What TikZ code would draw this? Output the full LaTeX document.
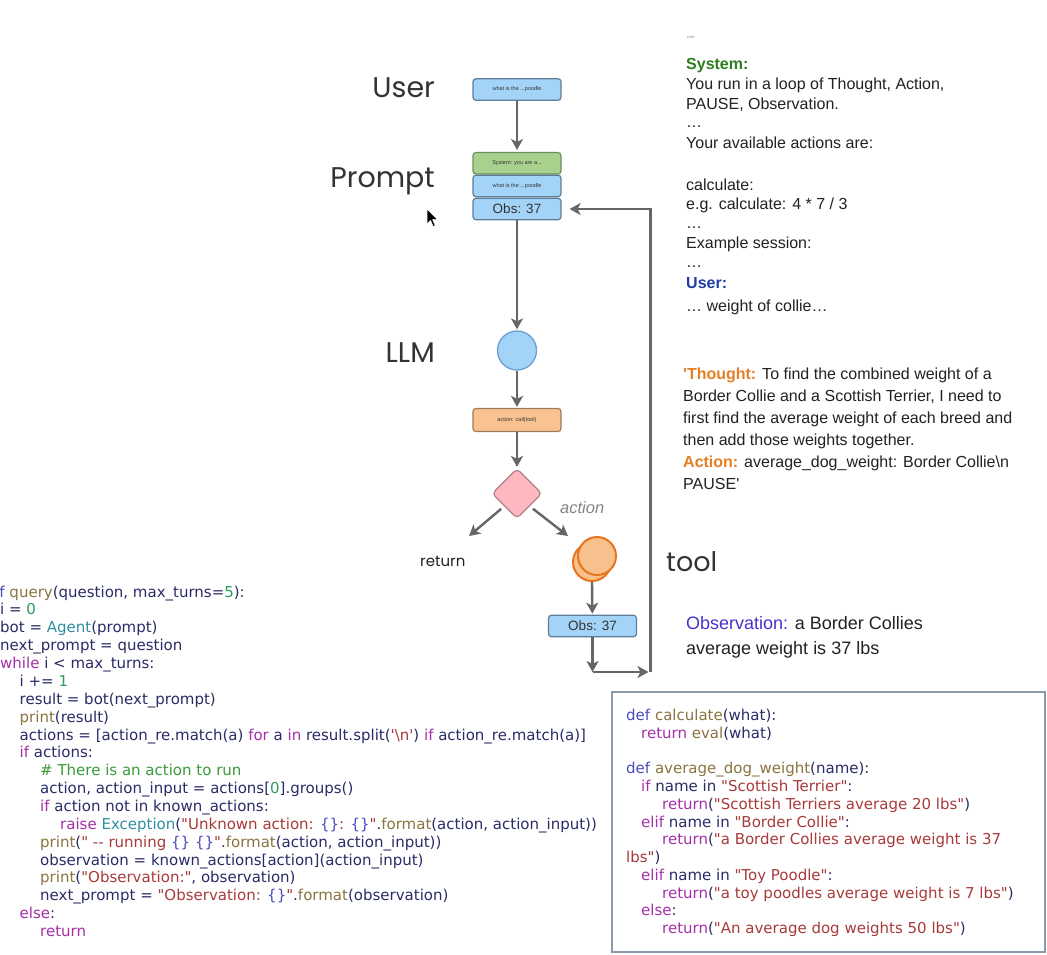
\documentclass[tikz,border=0pt]{standalone}
\usepackage{fontspec}
\usetikzlibrary{shapes.geometric,arrows.meta}
\newfontfamily\arialf{Liberation Sans}
\newfontfamily\popf{Poppins}
\newfontfamily\codef{DejaVu Sans}
\definecolor{bluefill}{HTML}{A3D4F8}
\definecolor{blueline}{HTML}{5E7D99}
\definecolor{greenfill}{HTML}{A9D18E}
\definecolor{greenline}{HTML}{6F8F5A}
\definecolor{orfill}{HTML}{F8C391}
\definecolor{orline}{HTML}{A07A58}
\definecolor{pinkfill}{HTML}{FFB8C0}
\definecolor{pinkline}{HTML}{B08088}
\definecolor{llmline}{HTML}{6B9FCF}
\definecolor{toolline}{HTML}{E8741C}
\definecolor{toolfill}{HTML}{F8C08C}
\definecolor{arrgray}{HTML}{666666}
\definecolor{labgray}{HTML}{333333}
\definecolor{tgray}{HTML}{222222}
\definecolor{sysgreen}{HTML}{2E7D1E}
\definecolor{userblue}{HTML}{1F3FA6}
\definecolor{thorange}{HTML}{E67E22}
\definecolor{obsblue}{HTML}{4433CC}
\definecolor{boxgray}{HTML}{8A9AA8}
\definecolor{cnavy}{HTML}{2A2C66}
\definecolor{ckw}{HTML}{A52FA8}
\definecolor{cfn}{HTML}{8A7440}
\definecolor{ccls}{HTML}{2F8F9F}
\definecolor{cstr}{HTML}{A83A3A}
\definecolor{cnum}{HTML}{2F9A5F}
\definecolor{ccm}{HTML}{3A9A3A}
\definecolor{cdef}{HTML}{4B4BC0}
\newcommand\Kw[1]{\textcolor{ckw}{#1}}
\newcommand\Fn[1]{\textcolor{cfn}{#1}}
\newcommand\Cl[1]{\textcolor{ccls}{#1}}
\newcommand\St[1]{\textcolor{cstr}{#1}}
\newcommand\Nu[1]{\textcolor{cnum}{#1}}
\newcommand\Cm[1]{\textcolor{ccm}{#1}}
\newcommand\Df[1]{\textcolor{cdef}{#1}}
\begin{document}
\begin{tikzpicture}[x=1pt,y=-1pt,
  box/.style={rounded corners=3pt, line width=1.2pt, minimum width=88pt, minimum height=21.5pt, inner sep=0pt, text=labgray},
  bluebox/.style={box, fill=bluefill, draw=blueline},
  tiny/.style={font=\arialf\fontsize{5.5}{6}\selectfont},
  obsf/.style={font=\arialf\fontsize{13.5}{15}\selectfont},
  arr/.style={draw=arrgray, line width=2.4pt, -{Stealth[length=11pt,width=12pt,inset=3pt]}},
  lab/.style={font=\popf\fontsize{28.5}{32}\selectfont, text=labgray, anchor=base east, inner sep=0pt},
  code/.style={font=\codef\fontsize{15}{18}\selectfont, text=cnavy, anchor=base west, inner sep=0pt},
  rtext/.style={font=\arialf\fontsize{16}{20}\selectfont, text=tgray, anchor=base west, inner sep=0pt},
  otext/.style={font=\arialf\fontsize{18}{22}\selectfont, text=tgray, anchor=base west, inner sep=0pt}
]
\useasboundingbox (0,0) rectangle (1047,954);
\clip (0,0) rectangle (1047,954);
\fill[white] (0,0) rectangle (1047,954);

% ---------- labels ----------
\node[lab] (lUser) at (435,97) {User};
\node[lab] (lPrompt) at (435,187) {Prompt};
\node[lab] (lLLM) at (435,362) {LLM};
\node[lab, font=\popf\fontsize{27}{30}\selectfont, anchor=base west] (lTool) at (666,571) {tool};
\node[font=\popf\fontsize{15}{18}\selectfont, text=tgray, anchor=base west, inner sep=0pt] (lReturn) at (420,566) {return};
\node[font=\arialf\itshape\fontsize{16.5}{20}\selectfont, text=arrgray!80, anchor=west, inner sep=0pt] (lAction) at (560,508) {action};

% ---------- flow nodes ----------
\node[bluebox, tiny] (user) at (517,89.5) {what is the ...poodle};
\node[box, fill=greenfill, draw=greenline, tiny] (sys) at (517,163.3) {System: you are a...};
\node[bluebox, tiny] (q) at (517,185.9) {what is the ...poodle};
\node[bluebox, obsf] (obs1) at (517,209) {Obs: 37};
\node[circle, fill=bluefill, draw=llmline, line width=1.3pt, minimum size=39pt, inner sep=0pt] (llm) at (517,350.5) {};
\node[box, fill=orfill, draw=orline, tiny, minimum height=23pt] (act) at (517,420) {action: call(tool)};
\node[diamond, aspect=1, fill=pinkfill, draw=pinkline, line width=1.2pt, rounded corners=4pt, minimum width=50pt, minimum height=50pt, inner sep=0pt] (dia) at (517,493.5) {};
\node[circle, fill=toolfill, draw=toolline, line width=2pt, minimum size=38pt, inner sep=0pt] (toolb) at (592,562) {};
\node[circle, fill=toolfill, draw=toolline, line width=2pt, minimum size=38pt, inner sep=0pt] (toolf) at (597,556) {};
\node[bluebox, obsf] (obs2) at (592.5,626) {Obs: 37};

\coordinate (retEnd) at (469,536);
\coordinate (actEnd) at (568,536);
\coordinate (c1) at (592.5,672);
\coordinate (c2) at (650.5,672);
\coordinate (c3) at (650.5,209);

% ---------- connectors ----------
\draw[arr, shorten >=2pt] (user) -- (sys);
\draw[arr, shorten >=1pt] (obs1) -- (llm);
\draw[arr, shorten >=1pt] (llm) -- (act);
\draw[arr, shorten >=1pt] (act) -- (dia);
\draw[arr, shorten <=4pt] (dia.south west) -- (retEnd);
\draw[arr, shorten <=4pt] (dia.south east) -- (actEnd);
\draw[arr, shorten >=1pt] (toolb.south) -- (obs2);
\draw[arr] (obs2) -- (c1);
\draw[arr, shorten >=2pt] (c1) -- (c2);
\draw[arr, shorten >=8pt] (c2) -- (c3) -- (obs1.east);

% ---------- cursor ----------
\filldraw[fill=black, draw=white, line width=0.5pt]
  (427,209) -- (427,224) -- (430.6,220.4) -- (433.3,226.5) -- (435.2,225.6) -- (432.5,219.5) -- (437.4,219.5) -- cycle;

% ---------- right text ----------
\node[font=\arialf\fontsize{7}{8}\selectfont, text=gray, anchor=base west, inner sep=0pt] (qq) at (687,41) {"""};
\node[rtext] (t1) at (686,69) {\textbf{\textcolor{sysgreen}{System:}}};
\node[rtext] (t2) at (686,89) {You run in a loop of Thought, Action,};
\node[rtext] (t3) at (686,109) {PAUSE, Observation.};
\node[rtext] (t4) at (686,127) {…};
\node[rtext] (t5) at (686,148) {Your available actions are:};
\node[rtext] (t6) at (686,190) {calculate:};
\node[rtext] (t7) at (686,209) {e.g. calculate: 4 * 7 / 3};
\node[rtext] (t8) at (686,228) {…};
\node[rtext] (t9) at (686,248) {Example session:};
\node[rtext] (t10) at (686,267) {…};
\node[rtext] (t11) at (686,288) {\textbf{\textcolor{userblue}{User:}}};
\node[rtext] (t12) at (686,311) {… weight of collie…};

\node[rtext] (h1) at (683,379) {\textbf{\textcolor{thorange}{'Thought:}} To find the combined weight of a};
\node[rtext] (h2) at (683,401) {Border Collie and a Scottish Terrier, I need to};
\node[rtext] (h3) at (683,423) {first find the average weight of each breed and};
\node[rtext] (h4) at (683,445) {then add those weights together.};
\node[rtext] (h5) at (683,467) {\textbf{\textcolor{thorange}{Action:}} average\_dog\_weight: Border Collie\textbackslash n};
\node[rtext] (h6) at (683,489) {PAUSE'};

\node[otext] (o1) at (686,629.5) {\textcolor{obsblue}{Observation:} a Border Collies};
\node[otext] (o2) at (686,654) {average weight is 37 lbs};

% ---------- left code ----------
\node[code] (k0) at (-19.5,597.0) {\Df{def} \Fn{query}(question, max\_turns=\Nu{5}):};
\node[code] (k1) at (0,614.9) {i = \Nu{0}};
\node[code] (k2) at (0,632.7) {bot = \Cl{Agent}(prompt)};
\node[code] (k3) at (0,650.6) {next\_prompt = question};
\node[code] (k4) at (0,668.5) {\Kw{while} i < max\_turns:};
\node[code] (k5) at (19.5,686.4) {i += \Nu{1}};
\node[code] (k6) at (19.5,704.2) {result = bot(next\_prompt)};
\node[code] (k7) at (19.5,722.1) {\Fn{print}(result)};
\node[code] (k8) at (19.5,740.0) {actions = [action\_re.match(a) \Kw{for} a \Kw{in} result.split(\St{'\textbackslash n'}) \Kw{if} action\_re.match(a)]};
\node[code] (k9) at (19.5,757.8) {\Kw{if} actions:};
\node[code] (k10) at (40,775.7) {\Cm{\# There is an action to run}};
\node[code] (k11) at (40,793.6) {action, action\_input = actions[\Nu{0}].groups()};
\node[code] (k12) at (40,811.4) {\Kw{if} action not in known\_actions:};
\node[code] (k13) at (60,829.3) {\Kw{raise} \Cl{Exception}(\St{"Unknown action: \textcolor{cdef}{\{\}}: \textcolor{cdef}{\{\}}"}.\Fn{format}(action, action\_input))};
\node[code] (k14) at (40,847.2) {\Fn{print}(\St{" -- running \textcolor{cdef}{\{\}} \textcolor{cdef}{\{\}}"}.\Fn{format}(action, action\_input))};
\node[code] (k15) at (40,865.1) {observation = known\_actions[action](action\_input)};
\node[code] (k16) at (40,882.9) {\Fn{print}(\St{"Observation:"}, observation)};
\node[code] (k17) at (40,900.8) {next\_prompt = \St{"Observation: \textcolor{cdef}{\{\}}"}.\Fn{format}(observation)};
\node[code] (k18) at (19.5,918.7) {\Kw{else}:};
\node[code] (k19) at (40,936.5) {\Kw{return}};

% ---------- right code box ----------
\draw[boxgray, line width=1.5pt] (612,692) rectangle (1045,952);
\node[code] (r0) at (626,720.5) {\Df{def} \Fn{calculate}(what):};
\node[code] (r1) at (641,738.25) {\Kw{return} \Fn{eval}(what)};
\node[code] (r3) at (626,773.75) {\Df{def} \Fn{average\_dog\_weight}(name):};
\node[code] (r4) at (641,791.5) {\Kw{if} name in \St{"Scottish Terrier"}:};
\node[code] (r5) at (662,809.25) {\Kw{return}(\St{"Scottish Terriers average 20 lbs"})};
\node[code] (r6) at (641,827) {\Kw{elif} name in \St{"Border Collie"}:};
\node[code] (r7) at (662,844.75) {\Kw{return}(\St{"a Border Collies average weight is 37}};
\node[code] (r8) at (626,862.5) {\St{lbs"})};
\node[code] (r9) at (641,880.25) {\Kw{elif} name in \St{"Toy Poodle"}:};
\node[code] (r10) at (662,898) {\Kw{return}(\St{"a toy poodles average weight is 7 lbs"})};
\node[code] (r11) at (641,915.75) {\Kw{else}:};
\node[code] (r12) at (662,933.5) {\Kw{return}(\St{"An average dog weights 50 lbs"})};
\end{tikzpicture}
\end{document}
